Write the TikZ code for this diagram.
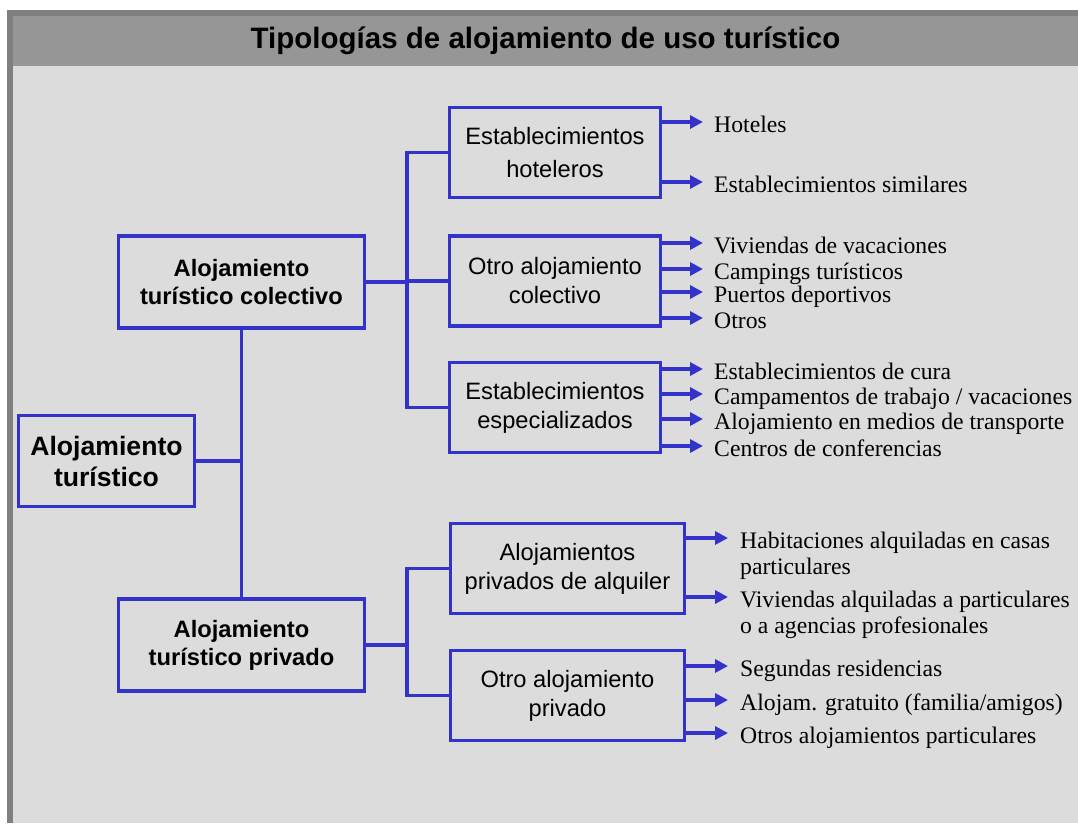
\documentclass[tikz,border=0pt]{standalone}
\usepackage{fontspec}
\setmainfont{Liberation Serif}
\newfontfamily\arialf{Liberation Sans}
\usetikzlibrary{arrows.meta,calc}
\definecolor{lineblue}{RGB}{51,51,204}
\definecolor{bggray}{RGB}{220,220,220}
\definecolor{titlegray}{RGB}{150,150,150}
\definecolor{framegray}{RGB}{128,128,128}
\begin{document}
\begin{tikzpicture}[x=1pt,y=-1pt,
  box/.style={draw=lineblue, line width=3.5pt, align=center, inner sep=0pt,
    font=\arialf\fontsize{23.7}{29}\selectfont},
  wbox/.style={box, minimum width=211pt, minimum height=90pt},
  pbox/.style={box, minimum width=234pt, minimum height=90pt},
  boldbox/.style={box, minimum width=246pt, minimum height=92pt,
    font=\arialf\bfseries\fontsize{23.7}{28}\selectfont},
  rootbox/.style={box, minimum width=176pt, minimum height=91pt,
    font=\arialf\bfseries\fontsize{26.6}{31}\selectfont},
  conn/.style={draw=lineblue, line width=3.5pt},
  arr/.style={draw=lineblue, line width=4pt, -{Triangle[length=13pt,width=13pt]}},
  leaf/.style={inner sep=0pt, anchor=west, text height=20pt, text depth=0pt,
    font=\fontsize{23.7}{26}\selectfont},
  leafcont/.style={inner sep=0pt, anchor=base west,
    font=\fontsize{23.7}{26}\selectfont},
]
\useasboundingbox (0,0) rectangle (1078,823);
\fill[white] (0,0) rectangle (1078,823);
\fill[framegray] (7,10) rectangle (1078,823);
\fill[titlegray] (13,16) rectangle (1078,66);
\fill[bggray] (13,66) rectangle (1078,823);
\node[font=\arialf\bfseries\fontsize{29.5}{32}\selectfont] (title) at (545.5,41)
  {Tipologías de alojamiento de uso turístico};

% boxes
\node[rootbox] (root) at (106.5,461) {Alojamiento\\turístico};
\node[boldbox] (colect) at (241.5,282) {Alojamiento\\turístico colectivo};
\node[boldbox] (priv) at (241.5,645) {Alojamiento\\turístico privado};
\node[wbox, font=\arialf\fontsize{23.7}{33}\selectfont] (hotel) at (555,152.5) {Establecimientos\\hoteleros};
\node[wbox] (otrocol) at (555,281) {Otro alojamiento\\colectivo};
\node[wbox] (espec) at (555,407.5) {Establecimientos\\especializados};
\node[pbox] (alq) at (567.5,568.5) {Alojamientos\\privados de alquiler};
\node[pbox] (otropriv) at (567.5,695.5) {Otro alojamiento\\privado};

% connectors
\coordinate (bus1) at (407,284);
\coordinate (bus2) at (407,640);
\draw[conn] (colect.south) -- (priv.north);
\draw[conn] (root.east) -- (root.east -| colect.south);
\draw[conn] (colect.east) -- (colect.east -| bus1);
\draw[conn] (hotel.west) -| (bus1 |- espec.west) -- (espec.west);
\draw[conn] (otrocol.west) -- (otrocol.west -| bus1);
\draw[conn] (priv.east) -- (priv.east -| bus2);
\draw[conn] (alq.west) -| (bus2 |- otropriv.west) -- (otropriv.west);

% leaves
\node[leaf] (h1) at (714,122) {Hoteles};
\node[leaf] (h2) at (714,182) {Establecimientos similares};
\node[leaf] (c1) at (714,243) {Viviendas de vacaciones};
\node[leaf] (c2) at (714,269) {Campings turísticos};
\node[leaf] (c3) at (714,292) {Puertos deportivos};
\node[leaf] (c4) at (714,318) {Otros};
\node[leaf] (e1) at (714,369) {Establecimientos de cura};
\node[leaf] (e2) at (714,394) {Campamentos de trabajo / vacaciones};
\node[leaf] (e3) at (714,419) {Alojamiento en medios de transporte};
\node[leaf] (e4) at (714,446) {Centros de conferencias};
\node[leaf] (a1) at (740,538) {Habitaciones alquiladas en casas};
\node[leafcont] (a1b) at ($(a1.base west)+(0,26)$) {particulares};
\node[leaf] (a2) at (740,597) {Viviendas alquiladas a particulares};
\node[leafcont] (a2b) at ($(a2.base west)+(0,26)$) {o a agencias profesionales};
\node[leaf] (p1) at (740,666) {Segundas residencias};
\node[leaf] (p2) at (740,700) {Alojam. gratuito (familia/amigos)};
\node[leaf] (p3) at (740,733) {Otros alojamientos particulares};

\foreach \b/\l in {hotel/h1,hotel/h2,otrocol/c1,otrocol/c2,otrocol/c3,otrocol/c4,espec/e1,espec/e2,espec/e3,espec/e4}
  \draw[arr] (\b.east |- \l.west) -- ([xshift=-11pt]\l.west);
\foreach \b/\l in {alq/a1,alq/a2,otropriv/p1,otropriv/p2,otropriv/p3}
  \draw[arr] (\b.east |- \l.west) -- ([xshift=-12pt]\l.west);
\end{tikzpicture}
\end{document}
